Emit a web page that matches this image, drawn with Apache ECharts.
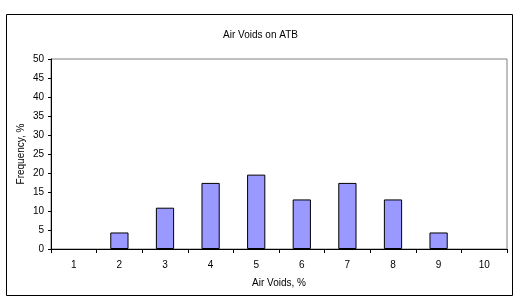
<!DOCTYPE html>
<html><head><meta charset="utf-8">
<script src="https://cdn.jsdelivr.net/npm/echarts@6/dist/echarts.min.js"></script>
<style>html,body{margin:0;padding:0;background:#fff}#c{width:521px;height:304px}</style>
</head><body><div id="c"></div>
<script>
var categories = ['1','2','3','4','5','6','7','8','9','10'];
var frequency = [0, 4.35, 10.87, 17.39, 19.57, 13.04, 17.39, 13.04, 4.35, 0];
var chartTitle = 'Air Voids on ATB';
var xName = 'Air Voids, %';
var yName = 'Frequency, %';
var F = 'Liberation Sans, Arial, sans-serif';
var barData = frequency.map(function(v){
  return v === 0 ? {value:v, itemStyle:{borderWidth:0}} : v;
});
var chart = echarts.init(document.getElementById('c'), null, {renderer:'canvas'});
chart.setOption({
  animation:false,
  backgroundColor:'#fff',
  title:{text:chartTitle,left:'center',top:25,textStyle:{fontFamily:F,fontSize:10,fontWeight:'normal',color:'#000'}},
  graphic:[{type:'rect',shape:{x:6.5,y:14.5,width:506,height:281},style:{fill:null,stroke:'#000',lineWidth:1},silent:true,z:100}],
  grid:{left:51,right:14,top:59,bottom:55,show:true,borderColor:'#808080',borderWidth:1,backgroundColor:'#fff'},
  xAxis:{type:'category',data:categories,boundaryGap:true,
    name:xName,nameLocation:'middle',nameGap:29,nameTextStyle:{fontFamily:F,fontSize:10,color:'#000'},
    axisLine:{lineStyle:{color:'#000',width:1}},
    axisTick:{show:true,alignWithLabel:false,length:4,lineStyle:{color:'#000'}},
    axisLabel:{fontFamily:F,fontSize:10,color:'#000',margin:11},
    splitLine:{show:false}},
  yAxis:{type:'value',min:0,max:50,interval:5,
    name:yName,nameLocation:'middle',nameGap:25,nameMoveOverlap:false,nameRotate:90,nameTextStyle:{fontFamily:F,fontSize:10,color:'#000'},
    axisLine:{show:true,lineStyle:{color:'#000',width:1}},
    axisTick:{show:true,length:3,lineStyle:{color:'#000'}},
    axisLabel:{fontFamily:F,fontSize:10,color:'#000',margin:7},
    splitLine:{show:false}},
  series:[{type:'bar',data:barData,barWidth:'40%',
    itemStyle:{color:'#9999FF',borderColor:'#000',borderWidth:1}}]
});
</script></body></html>
